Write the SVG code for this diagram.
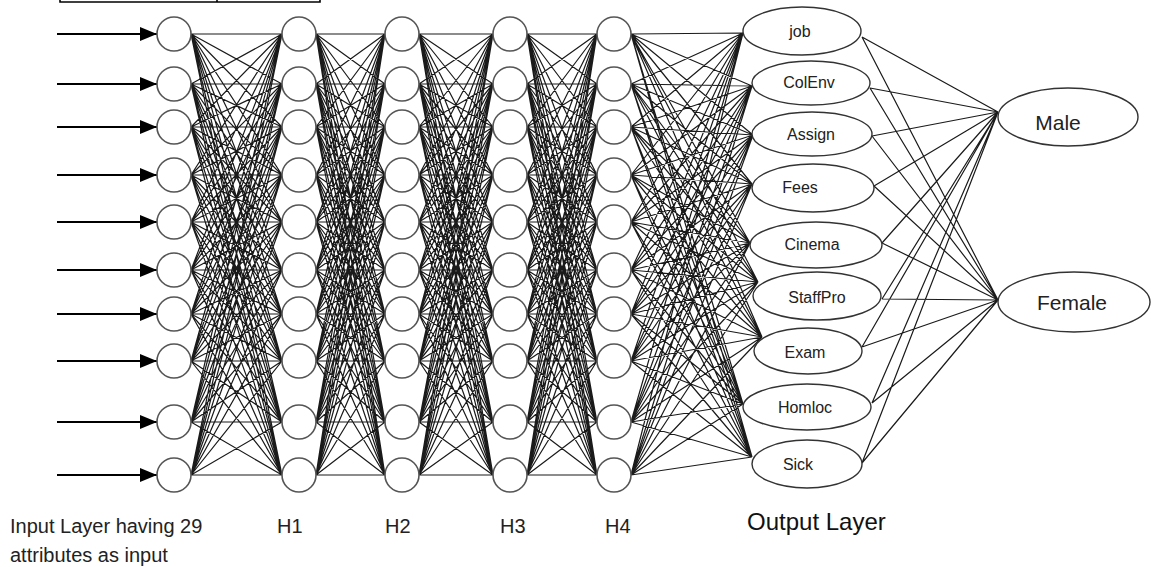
<svg xmlns="http://www.w3.org/2000/svg" xmlns:xlink="http://www.w3.org/1999/xlink" width="1151" height="567" viewBox="0 0 1151 567">
<style>
.n{fill:#fff;stroke:#555;stroke-width:1.6}
.o{fill:#fff;stroke:#333;stroke-width:1.4}
.c{fill:none;stroke:#1a1a1a;stroke-width:1.2}
.fc{fill:none;stroke:#1a1a1a;stroke-width:1.2;vector-effect:non-scaling-stroke}
.t{font-family:"Liberation Sans",Arial,sans-serif;fill:#222}
.lb{font-size:16px;text-anchor:middle}
.big{font-size:21px;text-anchor:middle}
.ax{font-size:20px}
</style>
<defs>
<marker id="ah" markerUnits="userSpaceOnUse" markerWidth="17" markerHeight="14" refX="17" refY="7" orient="auto">
<path d="M0,0L17,7L0,14z" fill="#000"/>
</marker>
<path id="fcp" class="fc" d="M0 34L1 34M0 34L1 84M0 34L1 127M0 34L1 175M0 34L1 222M0 34L1 270M0 34L1 314M0 34L1 361M0 34L1 422M0 34L1 475M0 84L1 34M0 84L1 84M0 84L1 127M0 84L1 175M0 84L1 222M0 84L1 270M0 84L1 314M0 84L1 361M0 84L1 422M0 84L1 475M0 127L1 34M0 127L1 84M0 127L1 127M0 127L1 175M0 127L1 222M0 127L1 270M0 127L1 314M0 127L1 361M0 127L1 422M0 127L1 475M0 175L1 34M0 175L1 84M0 175L1 127M0 175L1 175M0 175L1 222M0 175L1 270M0 175L1 314M0 175L1 361M0 175L1 422M0 175L1 475M0 222L1 34M0 222L1 84M0 222L1 127M0 222L1 175M0 222L1 222M0 222L1 270M0 222L1 314M0 222L1 361M0 222L1 422M0 222L1 475M0 270L1 34M0 270L1 84M0 270L1 127M0 270L1 175M0 270L1 222M0 270L1 270M0 270L1 314M0 270L1 361M0 270L1 422M0 270L1 475M0 314L1 34M0 314L1 84M0 314L1 127M0 314L1 175M0 314L1 222M0 314L1 270M0 314L1 314M0 314L1 361M0 314L1 422M0 314L1 475M0 361L1 34M0 361L1 84M0 361L1 127M0 361L1 175M0 361L1 222M0 361L1 270M0 361L1 314M0 361L1 361M0 361L1 422M0 361L1 475M0 422L1 34M0 422L1 84M0 422L1 127M0 422L1 175M0 422L1 222M0 422L1 270M0 422L1 314M0 422L1 361M0 422L1 422M0 422L1 475M0 475L1 34M0 475L1 84M0 475L1 127M0 475L1 175M0 475L1 222M0 475L1 270M0 475L1 314M0 475L1 361M0 475L1 422M0 475L1 475"/>
</defs>
<rect width="1151" height="567" fill="#fff"/>
<path d="M60 0V2H320V0M217 0V2" fill="none" stroke="#000" stroke-width="1.6"/>

<g id="connectors">
<g id="inputs" stroke="#000" stroke-width="2">
<line x1="57" y1="34" x2="157" y2="34" marker-end="url(#ah)"/>
<line x1="57" y1="84" x2="157" y2="84" marker-end="url(#ah)"/>
<line x1="57" y1="127" x2="157" y2="127" marker-end="url(#ah)"/>
<line x1="57" y1="175" x2="157" y2="175" marker-end="url(#ah)"/>
<line x1="57" y1="222" x2="157" y2="222" marker-end="url(#ah)"/>
<line x1="57" y1="270" x2="157" y2="270" marker-end="url(#ah)"/>
<line x1="57" y1="314" x2="157" y2="314" marker-end="url(#ah)"/>
<line x1="57" y1="361" x2="157" y2="361" marker-end="url(#ah)"/>
<line x1="57" y1="422" x2="157" y2="422" marker-end="url(#ah)"/>
<line x1="57" y1="475" x2="157" y2="475" marker-end="url(#ah)"/>
</g>
<use xlink:href="#fcp" href="#fcp" transform="translate(191,0) scale(91,1)"/>
<use xlink:href="#fcp" href="#fcp" transform="translate(316,0) scale(69,1)"/>
<use xlink:href="#fcp" href="#fcp" transform="translate(419,0) scale(74,1)"/>
<use xlink:href="#fcp" href="#fcp" transform="translate(527,0) scale(70,1)"/>
<path class="c" d="M631 34L743 33M631 34L752 86M631 34L753 135M631 34L752 184M631 34L750 243M631 34L758 282M631 34L762 337M631 34L743 404M631 34L752 457
M631 84L743 33M631 84L752 86M631 84L753 135M631 84L752 184M631 84L750 243M631 84L758 282M631 84L762 337M631 84L743 404M631 84L752 457
M631 127L743 33M631 127L752 86M631 127L753 135M631 127L752 184M631 127L750 243M631 127L758 282M631 127L762 337M631 127L743 404M631 127L752 457
M631 175L743 33M631 175L752 86M631 175L753 135M631 175L752 184M631 175L750 243M631 175L758 282M631 175L762 337M631 175L743 404M631 175L752 457
M631 222L743 33M631 222L752 86M631 222L753 135M631 222L752 184M631 222L750 243M631 222L758 282M631 222L762 337M631 222L743 404M631 222L752 457
M631 270L743 33M631 270L752 86M631 270L753 135M631 270L752 184M631 270L750 243M631 270L758 282M631 270L762 337M631 270L743 404M631 270L752 457
M631 314L743 33M631 314L752 86M631 314L753 135M631 314L752 184M631 314L750 243M631 314L758 282M631 314L762 337M631 314L743 404M631 314L752 457
M631 361L743 33M631 361L752 86M631 361L753 135M631 361L752 184M631 361L750 243M631 361L758 282M631 361L762 337M631 361L743 404M631 361L752 457
M631 422L743 33M631 422L752 86M631 422L753 135M631 422L752 184M631 422L750 243M631 422L758 282M631 422L762 337M631 422L743 404M631 422L752 457
M631 475L743 33M631 475L752 86M631 475L753 135M631 475L752 184M631 475L750 243M631 475L758 282M631 475L762 337M631 475L743 404M631 475L752 457"/>
<path class="c" d="M862 37L998 112M862 37L998 300M870 88L998 112M870 88L998 300M872 136L998 112M872 136L998 300M874 186L998 112M874 186L998 300M882 243L998 112M882 243L998 300M882 299L998 112M882 299L998 300M862 347L998 112M862 347L998 300M872 403L998 112M872 403L998 300M862 463L998 112M862 463L998 300"/>
</g>

<g id="input-layer">
<g id="in1"><circle class="n" cx="174" cy="34" r="17"/></g>
<g id="in2"><circle class="n" cx="174" cy="84" r="17"/></g>
<g id="in3"><circle class="n" cx="174" cy="127" r="17"/></g>
<g id="in4"><circle class="n" cx="174" cy="175" r="17"/></g>
<g id="in5"><circle class="n" cx="174" cy="222" r="17"/></g>
<g id="in6"><circle class="n" cx="174" cy="270" r="17"/></g>
<g id="in7"><circle class="n" cx="174" cy="314" r="17"/></g>
<g id="in8"><circle class="n" cx="174" cy="361" r="17"/></g>
<g id="in9"><circle class="n" cx="174" cy="422" r="17"/></g>
<g id="in10"><circle class="n" cx="174" cy="475" r="17"/></g>
</g>
<g id="h1-layer">
<g id="h1n1"><circle class="n" cx="299" cy="34" r="17"/></g>
<g id="h1n2"><circle class="n" cx="299" cy="84" r="17"/></g>
<g id="h1n3"><circle class="n" cx="299" cy="127" r="17"/></g>
<g id="h1n4"><circle class="n" cx="299" cy="175" r="17"/></g>
<g id="h1n5"><circle class="n" cx="299" cy="222" r="17"/></g>
<g id="h1n6"><circle class="n" cx="299" cy="270" r="17"/></g>
<g id="h1n7"><circle class="n" cx="299" cy="314" r="17"/></g>
<g id="h1n8"><circle class="n" cx="299" cy="361" r="17"/></g>
<g id="h1n9"><circle class="n" cx="299" cy="422" r="17"/></g>
<g id="h1n10"><circle class="n" cx="299" cy="475" r="17"/></g>
</g>
<g id="h2-layer">
<g id="h2n1"><circle class="n" cx="402" cy="34" r="17"/></g>
<g id="h2n2"><circle class="n" cx="402" cy="84" r="17"/></g>
<g id="h2n3"><circle class="n" cx="402" cy="127" r="17"/></g>
<g id="h2n4"><circle class="n" cx="402" cy="175" r="17"/></g>
<g id="h2n5"><circle class="n" cx="402" cy="222" r="17"/></g>
<g id="h2n6"><circle class="n" cx="402" cy="270" r="17"/></g>
<g id="h2n7"><circle class="n" cx="402" cy="314" r="17"/></g>
<g id="h2n8"><circle class="n" cx="402" cy="361" r="17"/></g>
<g id="h2n9"><circle class="n" cx="402" cy="422" r="17"/></g>
<g id="h2n10"><circle class="n" cx="402" cy="475" r="17"/></g>
</g>
<g id="h3-layer">
<g id="h3n1"><circle class="n" cx="510" cy="34" r="17"/></g>
<g id="h3n2"><circle class="n" cx="510" cy="84" r="17"/></g>
<g id="h3n3"><circle class="n" cx="510" cy="127" r="17"/></g>
<g id="h3n4"><circle class="n" cx="510" cy="175" r="17"/></g>
<g id="h3n5"><circle class="n" cx="510" cy="222" r="17"/></g>
<g id="h3n6"><circle class="n" cx="510" cy="270" r="17"/></g>
<g id="h3n7"><circle class="n" cx="510" cy="314" r="17"/></g>
<g id="h3n8"><circle class="n" cx="510" cy="361" r="17"/></g>
<g id="h3n9"><circle class="n" cx="510" cy="422" r="17"/></g>
<g id="h3n10"><circle class="n" cx="510" cy="475" r="17"/></g>
</g>
<g id="h4-layer">
<g id="h4n1"><circle class="n" cx="614" cy="34" r="17"/></g>
<g id="h4n2"><circle class="n" cx="614" cy="84" r="17"/></g>
<g id="h4n3"><circle class="n" cx="614" cy="127" r="17"/></g>
<g id="h4n4"><circle class="n" cx="614" cy="175" r="17"/></g>
<g id="h4n5"><circle class="n" cx="614" cy="222" r="17"/></g>
<g id="h4n6"><circle class="n" cx="614" cy="270" r="17"/></g>
<g id="h4n7"><circle class="n" cx="614" cy="314" r="17"/></g>
<g id="h4n8"><circle class="n" cx="614" cy="361" r="17"/></g>
<g id="h4n9"><circle class="n" cx="614" cy="422" r="17"/></g>
<g id="h4n10"><circle class="n" cx="614" cy="475" r="17"/></g>
</g>

<g id="output-layer">
<g id="job"><ellipse class="o" cx="802" cy="31" rx="59" ry="24"/><text class="t lb" x="800" y="37">job</text></g>
<g id="colenv"><ellipse class="o" cx="811" cy="83" rx="59" ry="22"/><text class="t lb" x="809" y="88">ColEnv</text></g>
<g id="assign"><ellipse class="o" cx="812" cy="134" rx="60" ry="22"/><text class="t lb" x="811" y="140">Assign</text></g>
<g id="fees"><ellipse class="o" cx="813" cy="188" rx="61" ry="24"/><text class="t lb" x="800" y="193">Fees</text></g>
<g id="cinema"><ellipse class="o" cx="816" cy="245" rx="66" ry="23"/><text class="t lb" x="812" y="250">Cinema</text></g>
<g id="staffpro"><ellipse class="o" cx="817" cy="296" rx="64" ry="24"/><text class="t lb" x="817" y="303">StaffPro</text></g>
<g id="exam"><ellipse class="o" cx="808" cy="351" rx="54" ry="23"/><text class="t lb" x="805" y="358">Exam</text></g>
<g id="homloc"><ellipse class="o" cx="807" cy="407" rx="64" ry="23"/><text class="t lb" x="805" y="413">Homloc</text></g>
<g id="sick"><ellipse class="o" cx="807" cy="464" rx="55" ry="24"/><text class="t lb" x="798" y="470">Sick</text></g>
</g>
<g id="male"><ellipse class="o" cx="1068" cy="117" rx="70" ry="29"/><text class="t big" x="1058" y="130">Male</text></g>
<g id="female"><ellipse class="o" cx="1074" cy="302" rx="76" ry="30"/><text class="t big" x="1072" y="310">Female</text></g>

<g id="labels">
<text class="t ax" x="10" y="533">Input Layer having 29</text>
<text class="t ax" x="10" y="562">attributes as input</text>
<text class="t ax" x="277" y="533">H1</text>
<text class="t ax" x="385" y="533">H2</text>
<text class="t ax" x="500" y="533">H3</text>
<text class="t ax" x="605" y="533">H4</text>
<text class="t" x="747" y="530" style="font-size:24px;fill:#111">Output Layer</text>
</g>
</svg>
